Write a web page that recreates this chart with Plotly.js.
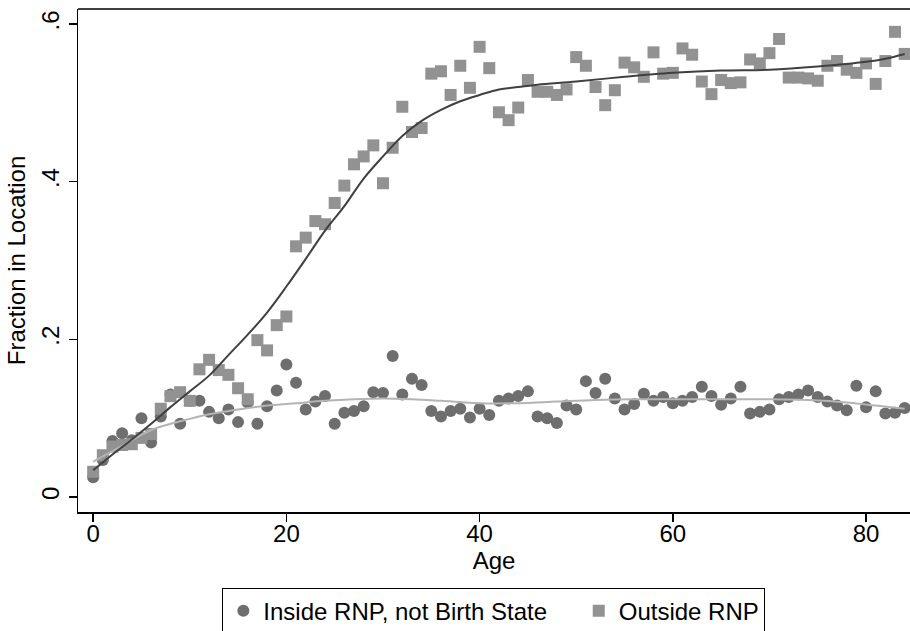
<!DOCTYPE html>
<html>
<head>
<meta charset="utf-8">
<script src="https://cdn.plot.ly/plotly-3.0.1.min.js"></script>
<style>
html,body{margin:0;padding:0;background:#fff;overflow:hidden;}
#chart{width:910px;height:631px;}
</style>
</head>
<body>
<div id="chart"></div>
<script>
// Age (years)
var ages = [];
for (var a = 0; a <= 84; a++) ages.push(a);

// Fraction living inside RNP but not in birth state
var insideRNP = [0.025,0.047,0.071,0.081,0.072,0.100,0.069,0.102,0.130,0.093,
  0.122,0.122,0.108,0.100,0.111,0.095,0.120,0.093,0.115,0.135,
  0.168,0.145,0.111,0.121,0.128,0.093,0.107,0.109,0.115,0.133,
  0.132,0.179,0.130,0.150,0.142,0.109,0.102,0.109,0.112,0.101,
  0.112,0.104,0.122,0.125,0.128,0.134,0.102,0.100,0.094,0.116,
  0.111,0.147,0.132,0.150,0.125,0.111,0.118,0.131,0.122,0.127,
  0.119,0.122,0.127,0.140,0.128,0.117,0.125,0.140,0.106,0.108,
  0.111,0.124,0.127,0.130,0.135,0.127,0.121,0.116,0.110,0.141,
  0.114,0.134,0.106,0.107,0.113];

// Fraction living outside RNP
var outsideRNP = [0.032,0.053,0.064,0.066,0.067,0.075,0.080,0.112,0.128,0.133,
  0.122,0.162,0.174,0.161,0.155,0.138,0.124,0.199,0.186,0.218,
  0.229,0.318,0.329,0.350,0.346,0.373,0.395,0.422,0.432,0.446,
  0.398,0.443,0.495,0.463,0.468,0.537,0.540,0.510,0.547,0.519,
  0.571,0.544,0.488,0.478,0.494,0.529,0.514,0.514,0.510,0.517,
  0.558,0.547,0.520,0.497,0.516,0.551,0.545,0.533,0.564,0.537,
  0.538,0.569,0.561,0.527,0.511,0.529,0.525,0.526,0.555,0.550,
  0.563,0.581,0.532,0.532,0.531,0.528,0.547,0.553,0.542,0.538,
  0.550,0.524,0.553,0.590,0.562];

// Smoothed fit lines
var fitOutsideAge = [0,2,4,6,8,10,12,14,16,18,20,22,24,26,28,30,32,34,36,38,40,42,44,46,50,55,60,65,70,75,80,82,84];
var fitOutside    = [0.034,0.054,0.073,0.093,0.114,0.134,0.154,0.180,0.206,0.234,0.267,0.302,0.338,0.369,0.404,0.432,0.458,0.477,0.491,0.502,0.510,0.517,0.520,0.523,0.527,0.533,0.538,0.541,0.542,0.546,0.552,0.556,0.562];
var fitInsideAge  = [0,3,6,9,12,15,18,21,24,27,30,33,36,40,44,48,52,56,60,65,70,74,78,81,84];
var fitInside     = [0.045,0.065,0.085,0.096,0.105,0.111,0.116,0.119,0.122,0.124,0.125,0.124,0.122,0.119,0.119,0.121,0.123,0.124,0.124,0.124,0.124,0.123,0.120,0.116,0.112];

// Tick labels
var yTickVals = [0, 0.2, 0.4, 0.6];
var yTickText = ["0", ".2", ".4", ".6"];
var xTickVals = [0, 20, 40, 60, 80];
var xTickText = ["0", "20", "40", "60", "80"];

var seriesNames = ["Inside RNP, not Birth State", "Outside RNP"];

var FONT = "'Liberation Sans', Arial, Helvetica, sans-serif";
var FS = 24;
var NB = "\u00a0\u00a0\u00a0\u00a0";

var traces = [
  {
    x: ages, y: insideRNP, type: "scatter", mode: "markers",
    name: seriesNames[0] + NB,
    marker: {symbol: "circle", size: 12, color: "#6e6e6e", line: {width: 0}}
  },
  {
    x: ages, y: outsideRNP, type: "scatter", mode: "markers",
    name: seriesNames[1],
    marker: {symbol: "square", size: 12, color: "#929292", line: {width: 0}}
  },
  {
    x: fitInsideAge, y: fitInside, type: "scatter", mode: "lines",
    showlegend: false, hoverinfo: "skip",
    line: {color: "#b4b4b4", width: 2, shape: "spline", smoothing: 1}
  },
  {
    x: fitOutsideAge, y: fitOutside, type: "scatter", mode: "lines",
    showlegend: false, hoverinfo: "skip",
    line: {color: "#404040", width: 2, shape: "spline", smoothing: 1}
  }
];

var layout = {
  width: 910, height: 631,
  autosize: false,
  margin: {l: 78, r: 0, t: 9, b: 119, pad: 0, autoexpand: false},
  paper_bgcolor: "#ffffff",
  plot_bgcolor: "#ffffff",
  font: {family: FONT, size: FS, color: "#000000"},
  showlegend: true,
  xaxis: {
    range: [-1.57, 84.55],
    tickmode: "array", tickvals: xTickVals, ticktext: xTickText,
    ticks: "outside", ticklen: 8, tickwidth: 1.5, tickcolor: "#000",
    ticklabelstandoff: -8,
    showline: true, linecolor: "#000", linewidth: 1.5,
    showgrid: false, zeroline: false,
    tickfont: {family: FONT, size: FS, color: "#000"},
    title: {text: "Age", font: {family: FONT, size: FS, color: "#000"}, standoff: 0},
    automargin: false
  },
  yaxis: {
    range: [-0.019, 0.619],
    tickmode: "array", tickvals: yTickVals, ticktext: yTickText,
    tickangle: -90,
    ticks: "outside", ticklen: 8, tickwidth: 1.5, tickcolor: "#000",
    showline: true, linecolor: "#000", linewidth: 1.5,
    showgrid: false, zeroline: false,
    tickfont: {family: FONT, size: FS, color: "#000"},
    title: {text: "Fraction in Location", font: {family: FONT, size: FS, color: "#000"}, standoff: 4},
    automargin: false
  },
  shapes: [
    {type: "line", xref: "paper", yref: "paper", x0: 0, x1: 1.02, y0: 1, y1: 1,
     line: {color: "#000", width: 1.5}}
  ],
  legend: {
    orientation: "h",
    x: 0.1735, xanchor: "left",
    y: -0.1505, yanchor: "top",
    bordercolor: "#000", borderwidth: 1, bgcolor: "#fff",
    font: {family: FONT, size: FS, color: "#000"},
    itemsizing: "constant",
    tracegroupgap: 0
  }
};

Plotly.newPlot("chart", traces, layout, {staticPlot: true, displayModeBar: false});
</script>
</body>
</html>
